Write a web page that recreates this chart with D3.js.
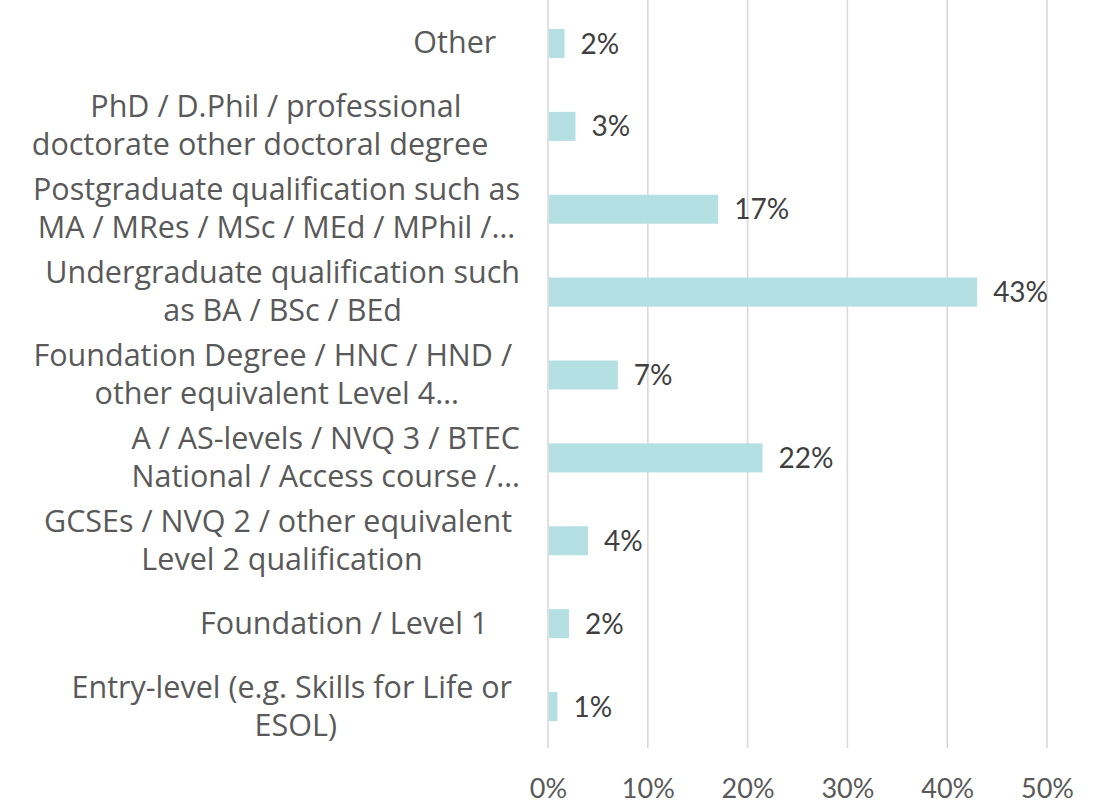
<!DOCTYPE html>
<html>
<head>
<meta charset="utf-8">
<script src="https://cdn.jsdelivr.net/npm/d3@7"></script>
<style>
  body { margin: 0; background: #fff; }
  svg { display: block; }
</style>
</head>
<body>
<svg id="chart"></svg>
<script>
// category labels, split into the lines shown in the picture (top to bottom)
// trailing no-break spaces mimic the trailing blanks of the original labels
const categories = [
  ["Other\u00a0\u00a0\u00a0"],
  ["PhD / D.Phil / professional", "doctorate other doctoral degree\u00a0\u00a0\u00a0\u00a0"],
  ["Postgraduate qualification such as", "MA / MRes / MSc / MEd / MPhil /…"],
  ["Undergraduate qualification such", "as BA / BSc / BEd"],
  ["Foundation Degree / HNC / HND /\u00a0", "other equivalent Level 4…"],
  ["A / AS-levels / NVQ 3 / BTEC", "National / Access course /…"],
  ["GCSEs / NVQ 2 / other equivalent\u00a0", "Level 2 qualification"],
  ["Foundation / Level 1\u00a0\u00a0\u00a0\u00a0"],
  ["Entry-level (e.g. Skills for Life or\u00a0", "ESOL)"]
];
const values = [1.65, 2.75, 17.05, 43.0, 7.0, 21.5, 4.0, 2.1, 0.95];
const xTicks = [0, 10, 20, 30, 40, 50];

const width = 1102, height = 804;
const margin = {top: 2, right: 55, bottom: 56, left: 548};
const labelFont = "'Open Sans', sans-serif";
const numberFont = "Lato, 'Open Sans', sans-serif";

const data = categories.map((c, i) => ({id: i, lines: c, value: values[i]}));

const svg = d3.select("#chart")
  .attr("width", width)
  .attr("height", height)
  .attr("viewBox", [0, 0, width, height]);

let x = d3.scaleLinear()
  .domain([0, 50])
  .range([margin.left, width - margin.right]);

let y = d3.scaleBand()
  .domain(data.map(d => d.id))
  .range([margin.top, height - margin.bottom])
  .paddingInner(0.65)
  .paddingOuter(0.325);

// vertical gridlines
svg.append("g")
  .selectAll("line")
  .data(xTicks)
  .join("line")
  .attr("x1", d => x(d))
  .attr("x2", d => x(d))
  .attr("y1", 0)
  .attr("y2", height - margin.bottom)
  .attr("stroke", "#d9d9d9")
  .attr("stroke-width", 1.6);

// x axis labels
let xAxis = g => g
  .attr("transform", `translate(0,${height - margin.bottom})`)
  .call(d3.axisBottom(x).tickValues(xTicks).tickSize(0).tickPadding(31).tickFormat(d => d + "%"))
  .call(g => g.select(".domain").remove())
  .call(g => g.selectAll("text")
    .attr("font-family", numberFont)
    .attr("font-size", 27)
    .attr("fill", "#595959"));

svg.append("g").call(xAxis);

// bars
svg.append("g")
  .attr("fill", "#b4dfe3")
  .selectAll("rect")
  .data(data)
  .join("rect")
  .attr("x", x(0) + 1)
  .attr("y", d => y(d.id))
  .attr("width", d => x(d.value) - x(0) - 1)
  .attr("height", y.bandwidth());

// value labels
svg.append("g")
  .attr("font-family", numberFont)
  .attr("font-size", 28)
  .attr("fill", "#404040")
  .selectAll("text")
  .data(data)
  .join("text")
  .attr("x", d => x(d.value) + 16)
  .attr("y", d => y(d.id) + y.bandwidth() / 2)
  .attr("dy", "0.36em")
  .text(d => Math.round(d.value) + "%");

// category labels: lines centred in a block that is right-aligned
const blockRight = 520;
const lineHeight = 38;

const labels = svg.append("g")
  .attr("font-family", labelFont)
  .attr("font-size", 30.5)
  .attr("fill", "#595959")
  .attr("text-anchor", "middle")
  .selectAll("text")
  .data(data)
  .join("text")
  .attr("y", d => y(d.id) + y.bandwidth() / 2);

labels.selectAll("tspan")
  .data(d => d.lines.map((t, i) => ({t, i, n: d.lines.length})))
  .join("tspan")
  .attr("dy", d => d.i === 0 ? ((-(d.n - 1) / 2) * lineHeight + 10) : lineHeight)
  .text(d => d.t);

labels.each(function(d) {
  const t = d3.select(this);
  let maxW = 0;
  t.selectAll("tspan").each(function() {
    maxW = Math.max(maxW, this.getComputedTextLength());
  });
  t.selectAll("tspan").attr("x", blockRight - maxW / 2);
});
</script>
</body>
</html>
